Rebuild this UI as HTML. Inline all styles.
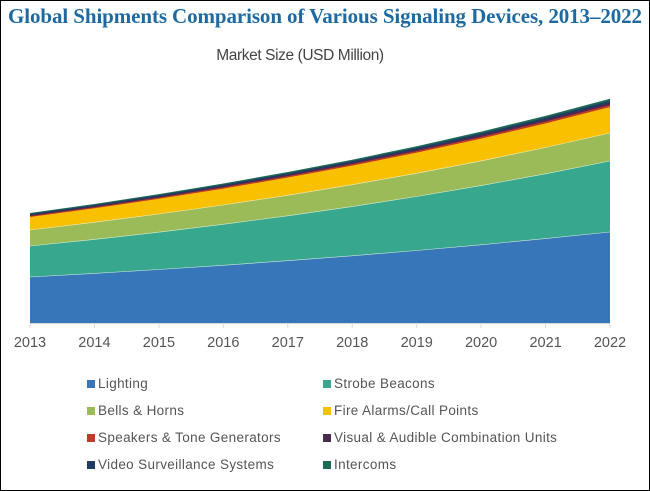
<!DOCTYPE html>
<html><head><meta charset="utf-8"><style>
body{margin:0;width:650px;height:491px;overflow:hidden;background:#fff}
.f{position:absolute;left:0;top:0;width:648px;height:489px;border:1px solid #000}
.t{position:absolute;left:0;width:650px;top:4px;text-align:center;font:bold 21px "Liberation Serif",serif;color:#1e6aa0;letter-spacing:-0.1px}
.s{position:absolute;left:0;width:600px;top:47px;text-align:center;font:15.5px "Liberation Sans",sans-serif;color:#444;letter-spacing:-0.4px}
.l{position:absolute;font:13.5px "Liberation Sans",sans-serif;color:#555;letter-spacing:0.35px}
.l i{display:inline-block;width:8px;height:8px;margin-right:3px;vertical-align:0px}
svg text{font-family:"Liberation Sans",sans-serif;font-size:14.5px;fill:#555}
</style></head><body>
<div class="f"></div>
<svg width="650" height="491" style="position:absolute;left:0;top:0">
<polygon fill="#1d6a55" points="30,323 30,213 94.4,204 158.9,194.1 223.3,183.5 287.8,172 352.2,159.7 416.7,146.2 481.1,131.6 545.6,115.9 610,98.8 610,323"/>
<polygon fill="#1f3c64" points="30,323 30,214 94.4,205.1 158.9,195.3 223.3,184.8 287.8,173.4 352.2,161.1 416.7,147.8 481.1,133.4 545.6,117.8 610,100.9 610,323"/>
<polygon fill="#4a2a4e" points="30,323 30,215 94.4,206.1 158.9,196.5 223.3,186.1 287.8,174.8 352.2,162.6 416.7,149.4 481.1,135.1 545.6,119.6 610,102.9 610,323"/>
<polygon fill="#c0392b" points="30,323 30,216 94.4,207.2 158.9,197.6 223.3,187.3 287.8,176.1 352.2,164.1 416.7,151 481.1,136.9 545.6,121.5 610,105 610,323"/>
<polygon fill="#f9c000" points="30,323 30,217 94.4,208.3 158.9,198.8 223.3,188.6 287.8,177.5 352.2,165.6 416.7,152.6 481.1,138.6 545.6,123.4 610,107 610,323"/>
<polygon fill="#9bbb59" points="30,323 30,230 94.4,222.3 158.9,214 223.3,205 287.8,195.3 352.2,184.7 416.7,173.3 481.1,160.9 545.6,147.5 610,133 610,323"/>
<polygon fill="#37a88e" points="30,323 30,246 94.4,239.4 158.9,232.2 223.3,224.3 287.8,215.8 352.2,206.6 416.7,196.5 481.1,185.6 545.6,173.8 610,161 610,323"/>
<polygon fill="#3776b8" points="30,323 30,277 94.4,273.4 158.9,269.5 223.3,265.3 287.8,260.7 352.2,255.8 416.7,250.5 481.1,244.8 545.6,238.6 610,232 610,323"/>
<polyline fill="none" stroke="#cfe6e0" stroke-width="0.6" points="30,277 94.4,273.4 158.9,269.5 223.3,265.3 287.8,260.7 352.2,255.8 416.7,250.5 481.1,244.8 545.6,238.6 610,232"/>
<polyline fill="none" stroke="#d8ecd0" stroke-width="0.6" points="30,246 94.4,239.4 158.9,232.2 223.3,224.3 287.8,215.8 352.2,206.6 416.7,196.5 481.1,185.6 545.6,173.8 610,161"/>
<polyline fill="none" stroke="#f0ecc0" stroke-width="0.6" points="30,230 94.4,222.3 158.9,214 223.3,205 287.8,195.3 352.2,184.7 416.7,173.3 481.1,160.9 545.6,147.5 610,133"/>
<line x1="30" y1="323.5" x2="610" y2="323.5" stroke="#d9d9d9"/>
<g stroke="#d9d9d9">
<line x1="30" y1="323" x2="30" y2="328"/><line x1="94.4" y1="323" x2="94.4" y2="328"/><line x1="158.9" y1="323" x2="158.9" y2="328"/><line x1="223.3" y1="323" x2="223.3" y2="328"/><line x1="287.8" y1="323" x2="287.8" y2="328"/><line x1="352.2" y1="323" x2="352.2" y2="328"/><line x1="416.7" y1="323" x2="416.7" y2="328"/><line x1="481.1" y1="323" x2="481.1" y2="328"/><line x1="545.6" y1="323" x2="545.6" y2="328"/><line x1="610" y1="323" x2="610" y2="328"/>
</g>
<g text-anchor="middle">
<text x="30" y="347">2013</text><text x="94.4" y="347">2014</text><text x="158.9" y="347">2015</text><text x="223.3" y="347">2016</text><text x="287.8" y="347">2017</text><text x="352.2" y="347">2018</text><text x="416.7" y="347">2019</text><text x="481.1" y="347">2020</text><text x="545.6" y="347">2021</text><text x="610" y="347">2022</text>
</g>
</svg>
<div class="t">Global Shipments Comparison of Various Signaling Devices, 2013–2022</div>
<div class="s">Market Size (USD Million)</div>
<div class="l" style="left:87px;top:376px"><i style="background:#3776b8"></i>Lighting</div>
<div class="l" style="left:323px;top:376px"><i style="background:#37a88e"></i>Strobe Beacons</div>
<div class="l" style="left:87px;top:403px"><i style="background:#9bbb59"></i>Bells &amp; Horns</div>
<div class="l" style="left:323px;top:403px"><i style="background:#f9c000"></i>Fire Alarms/Call Points</div>
<div class="l" style="left:87px;top:430px"><i style="background:#c0392b"></i>Speakers &amp; Tone Generators</div>
<div class="l" style="left:323px;top:430px"><i style="background:#4a2a4e"></i>Visual &amp; Audible Combination Units</div>
<div class="l" style="left:87px;top:457px"><i style="background:#1f3c64"></i>Video Surveillance Systems</div>
<div class="l" style="left:323px;top:457px"><i style="background:#1d6a55"></i>Intercoms</div>
</body></html>
